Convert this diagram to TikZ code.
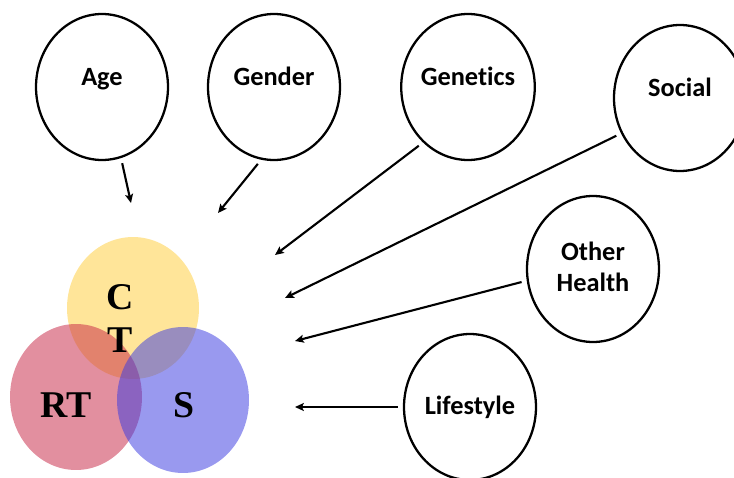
\documentclass[tikz,border=0pt]{standalone}
\usepackage{fontspec}
\setmainfont{Liberation Serif}
\newfontfamily\factorfont[Ligatures=NoCommon]{Carlito}
\usepackage{tikz}
\usetikzlibrary{positioning,arrows.meta,shapes.geometric}

\definecolor{vennC}{RGB}{255,205,60}
\definecolor{vennRT}{RGB}{200,40,70}
\definecolor{vennS}{RGB}{60,60,225}

\begin{document}
\begin{tikzpicture}[x=0.02cm, y=-0.02cm,
    factor/.style={draw, ellipse, line width=1.3pt, minimum width=2.64cm, minimum height=2.92cm, inner sep=0pt, align=center, font=\factorfont\bfseries\fontsize{15}{17.5}\selectfont},
    high/.style={text height=0.32cm, text depth=0.38cm},
    arrow/.style={-{Stealth[length=5pt, width=4.5pt, inset=1pt]}, line width=1.2pt, shorten <=3pt},
    venn/.style={fill opacity=0.52},
    letter/.style={inner sep=0pt, font=\bfseries\fontsize{21.5}{24}\selectfont},
]
\useasboundingbox (0,0) rectangle (734,477);

% Venn circles
\fill[venn, vennC] (133,308) ellipse [x radius=1.32cm, y radius=1.42cm];
\fill[venn, vennRT] (76,397) ellipse [x radius=1.32cm, y radius=1.46cm];
\fill[venn, vennS] (183,400) ellipse [x radius=1.32cm, y radius=1.46cm];

\node[letter] (c) at (120,297) {C};
\node[letter] (t) at (120,340) {T};
\node[letter] (rt) at (66,405) {RT};
\node[letter] (s) at (184,405) {S};

% Factors
\node[factor, high] (age) at (102,87) {Age};
\node[factor, high] (gender) at (274,87) {Gender};
\node[factor, high] (genetics) at (468,87) {Genetics};
\node[factor, high] (social) at (680,98) {Social};
\node[factor, text depth=0.1cm] (other) at (593,269) {Other\\Health};
\node[factor] (lifestyle) at (470,407) {Lifestyle};

% Arrow ends
\coordinate (toAge) at (131,203);
\coordinate (toGender) at (218,213);
\coordinate (toGenetics) at (275,255);
\coordinate (toSocial) at (285,298);
\coordinate (toOther) at (295,341);
\coordinate (toLife) at (295,407);

\draw[arrow] (age.285) -- (toAge);
\draw[arrow] (gender.260) -- (toGender);
\draw[arrow] (genetics.231) -- (toGenetics);
\draw[arrow] (social.211) -- (toSocial);
\draw[arrow] (other.190) -- (toOther);
\draw[arrow] (lifestyle.west) -- (toLife);

\end{tikzpicture}
\end{document}
